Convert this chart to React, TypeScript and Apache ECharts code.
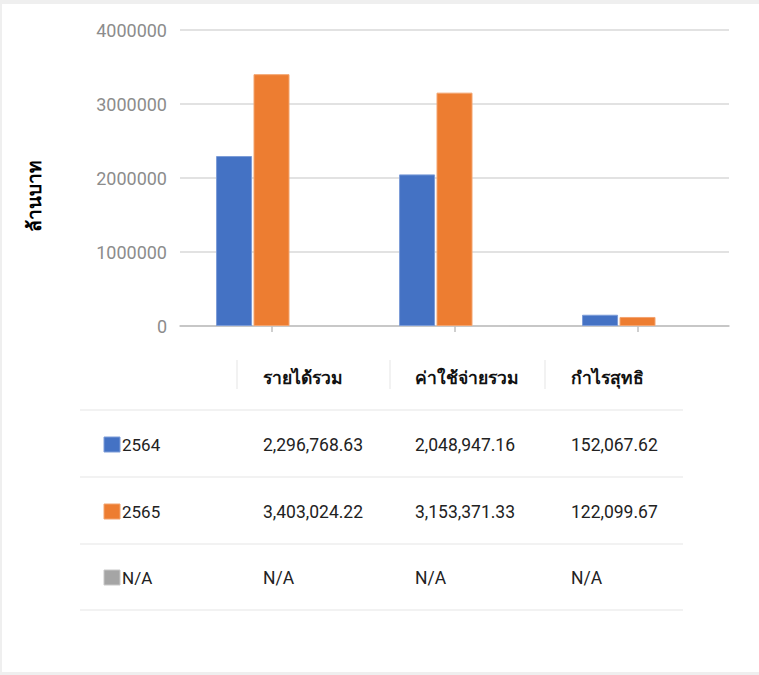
import React, { useEffect, useRef } from "react";
import * as echarts from "echarts";

const categories = ["รายได้รวม", "ค่าใช้จ่ายรวม", "กำไรสุทธิ"];
const seriesNames = ["2564", "2565", "N/A"];
const values2564 = [2296768.63, 2048947.16, 152067.62];
const values2565 = [3403024.22, 3153371.33, 122099.67];
const valuesNA: (number | null)[] = [null, null, null];
const seriesColors = ["#4472c4", "#ed7d31", "#a5a5a5"];
const borderColors = ["#7c9cd8", "#f3a46f", "#c8c8c8"];
const yAxisName = "ล้านบาท";

const FONT = "Roboto, 'Noto Sans', 'DejaVu Sans', sans-serif";

function fmt(v: number | null) {
  if (v === null) return "N/A";
  return v.toLocaleString("en-US", { minimumFractionDigits: 2, maximumFractionDigits: 2 });
}

export default function App() {
  const ref = useRef<HTMLDivElement>(null);
  useEffect(() => {
    document.body.style.margin = "0";
    const chart = echarts.init(ref.current!, undefined, { renderer: "svg" });
    const allValues = [values2564, values2565, valuesNA];

    const graphics: any[] = [];
    // frame
    graphics.push({ type: "rect", shape: { x: 0, y: 0, width: 759, height: 4 }, style: { fill: "#efefef" }, silent: true });
    graphics.push({ type: "rect", shape: { x: 0, y: 0, width: 2, height: 675 }, style: { fill: "#efefef" }, silent: true });
    graphics.push({ type: "rect", shape: { x: 0, y: 672, width: 759, height: 3 }, style: { fill: "#efefef" }, silent: true });
    // y axis name
    graphics.push({
      type: "text",
      x: 34,
      y: 196,
      rotation: Math.PI / 2,
      style: { text: yAxisName, fill: "#000", font: `bold 19px ${FONT}`, align: "center", verticalAlign: "middle" },
    });
    // table
    const colX = [263, 415, 571];
    const sepX = [237, 390, 545];
    sepX.forEach((x) =>
      graphics.push({ type: "line", shape: { x1: x, y1: 360, x2: x, y2: 389 }, style: { stroke: "#eeeeee", lineWidth: 1.5 } })
    );
    categories.forEach((c, i) =>
      graphics.push({
        type: "text",
        x: colX[i],
        y: 378,
        style: { text: c, fill: "#111", font: `bold 17.5px ${FONT}`, align: "left", verticalAlign: "middle" },
      })
    );
    const lineY = [410, 477, 544, 610];
    lineY.forEach((y) =>
      graphics.push({ type: "line", shape: { x1: 80, y1: y, x2: 683, y2: y }, style: { stroke: "#f2f2f2", lineWidth: 2 } })
    );
    const rowY = [445, 512, 578];
    seriesNames.forEach((name, r) => {
      graphics.push({
        type: "rect",
        shape: { x: 104, y: rowY[r] - 8, width: 16, height: 15 },
        style: { fill: seriesColors[r], stroke: borderColors[r], lineWidth: 1 },
      });
      graphics.push({
        type: "text",
        x: 122,
        y: rowY[r],
        style: { text: name, fill: "#222", font: `17px ${FONT}`, align: "left", verticalAlign: "middle" },
      });
      allValues[r].forEach((v, i) =>
        graphics.push({
          type: "text",
          x: colX[i],
          y: rowY[r],
          style: { text: fmt(v), fill: "#222", font: `17.5px ${FONT}`, align: "left", verticalAlign: "middle" },
        })
      );
    });

    chart.setOption({
      animation: false,
      backgroundColor: "#ffffff",
      grid: { left: 180, right: 30, top: 30, height: 296, containLabel: false },
      xAxis: {
        type: "category",
        data: categories,
        axisLine: { lineStyle: { color: "#bfbfbf", width: 1.5 } },
        axisTick: { show: true, alignWithLabel: true, length: 6, lineStyle: { color: "#bfbfbf", width: 1.5 } },
        axisLabel: { show: false },
      },
      yAxis: {
        type: "value",
        min: 0,
        max: 4000000,
        interval: 1000000,
        axisLine: { show: false },
        axisTick: { show: false },
        axisLabel: {
          color: "#8c8c8c",
          fontSize: 18,
          fontFamily: FONT,
          margin: 13,
          formatter: (v: number) => String(v),
        },
        splitLine: { lineStyle: { color: "#d9d9d9", width: 1.5 } },
      },
      series: seriesNames.map((name, i) => ({
        name,
        type: "bar",
        data: allValues[i],
        barWidth: 36,
        barGap: "4%",
        itemStyle: { color: seriesColors[i], borderColor: borderColors[i], borderWidth: 1 },
      })),
      graphic: graphics,
    });
    return () => chart.dispose();
  }, []);
  return <div ref={ref} style={{ width: 759, height: 675, position: "absolute", left: 0, top: 0 }} />;
}
